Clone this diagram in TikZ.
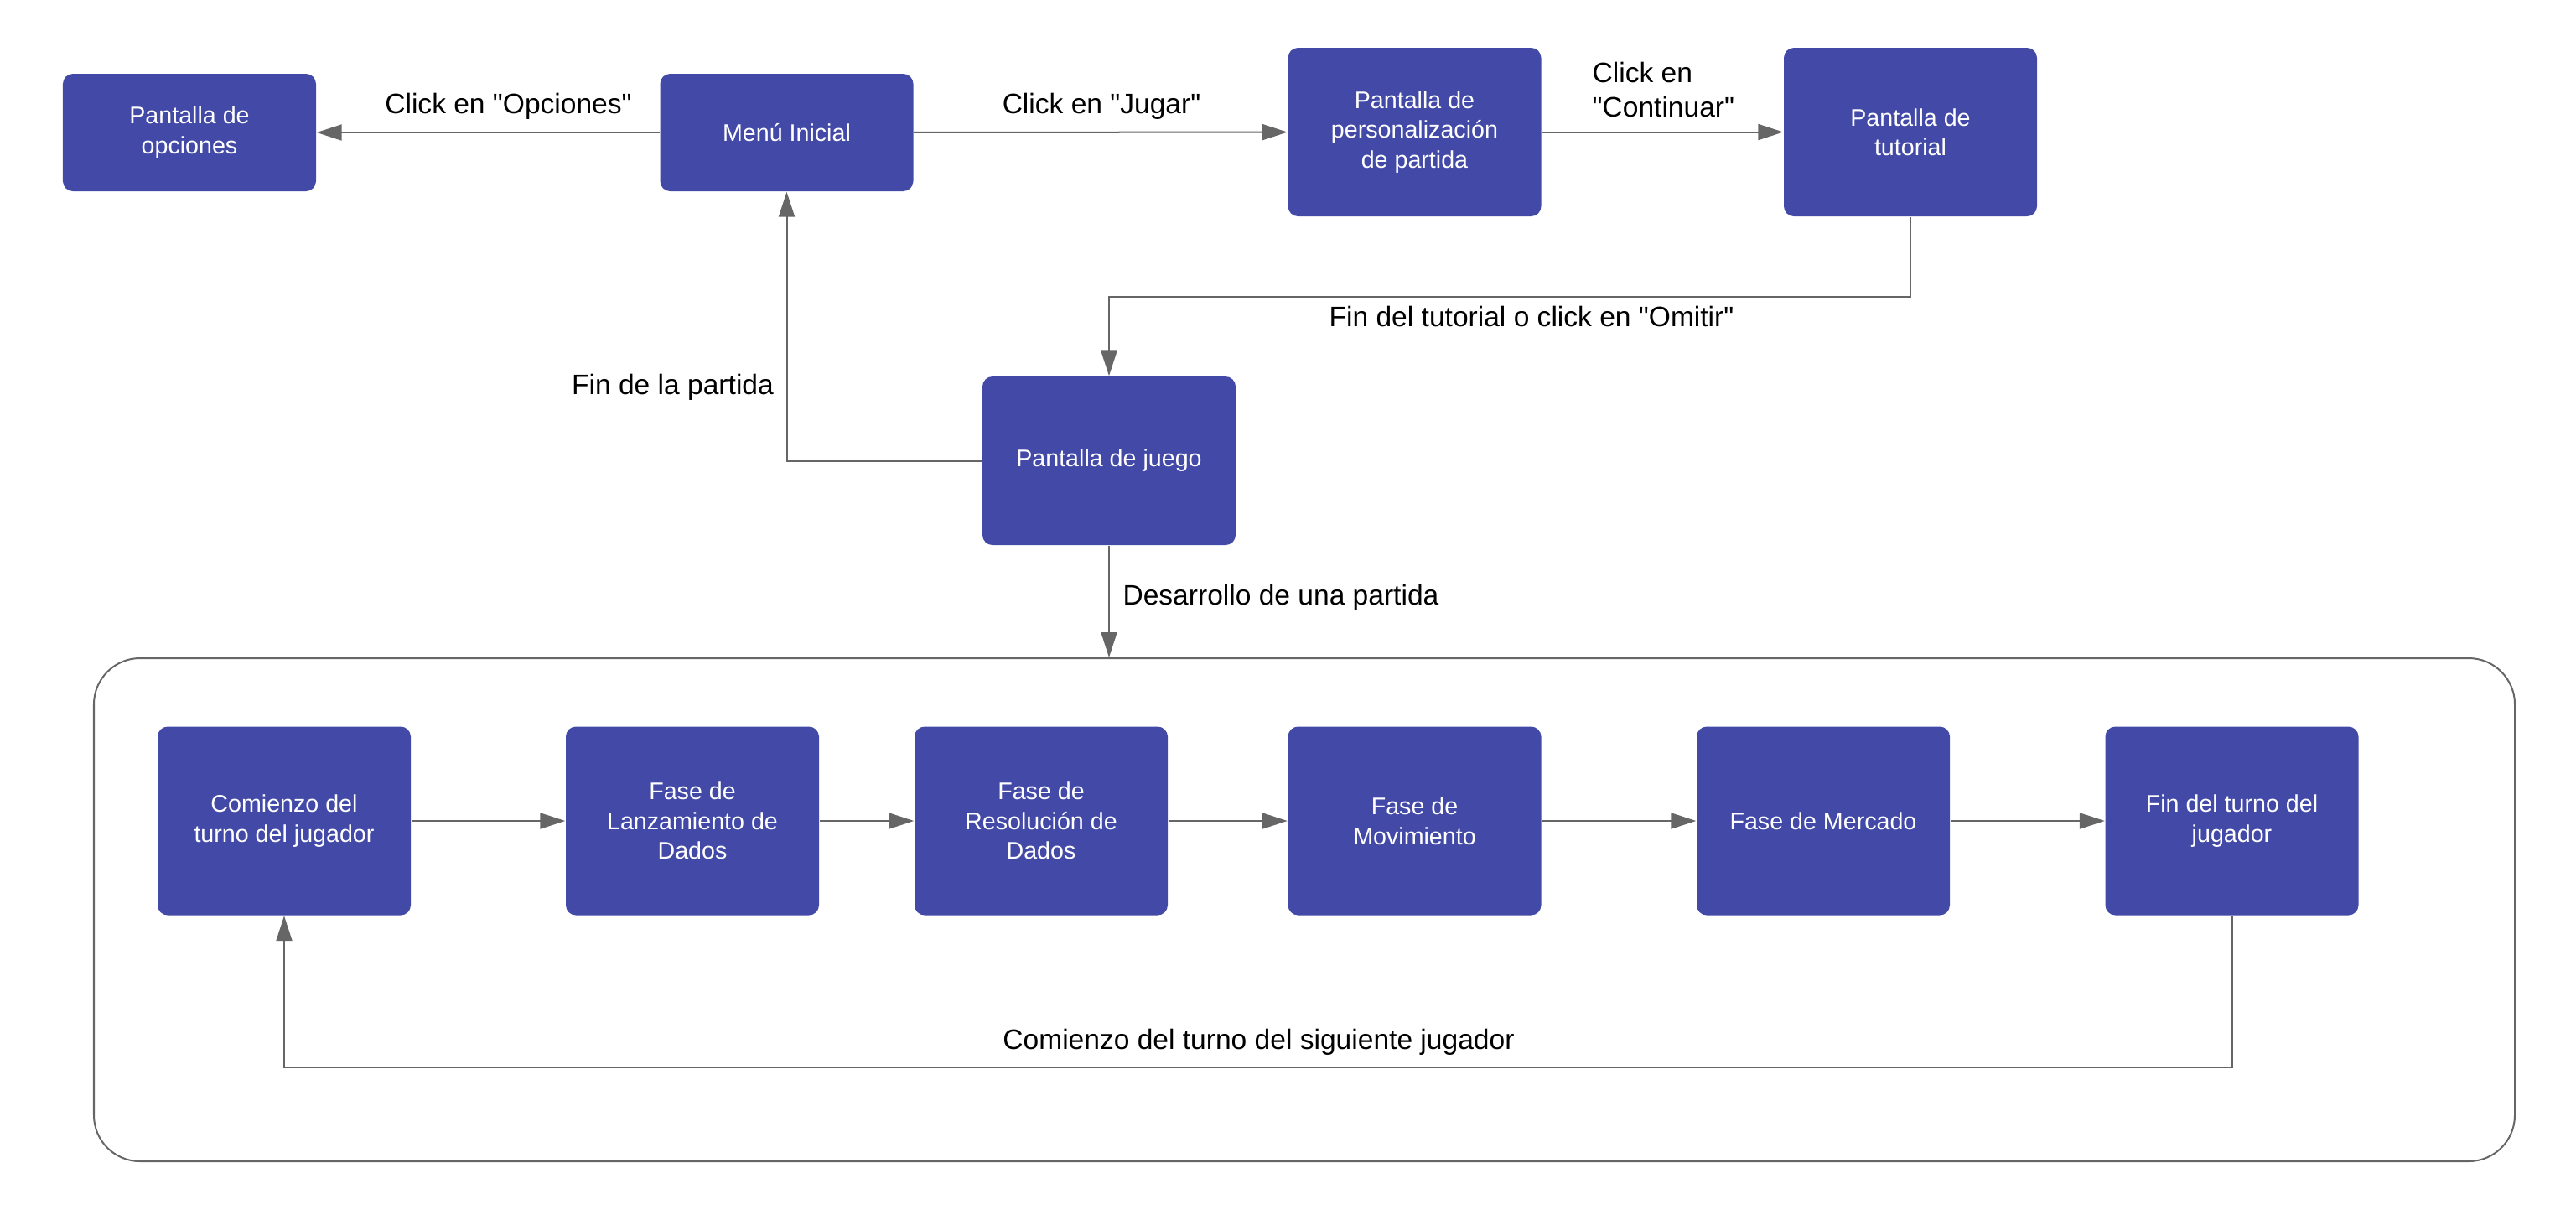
\documentclass[tikz,border=0pt]{standalone}
\usepackage{fontspec}
\setmainfont{Liberation Sans}
\usetikzlibrary{arrows.meta,calc}
\definecolor{azulcaja}{RGB}{67,73,167}
\definecolor{gris}{RGB}{102,102,102}
\newcommand{\cq}{\textquotedbl}

\begin{document}
\begin{tikzpicture}[
  caja/.style={fill=azulcaja, rounded corners=0.12cm, minimum width=3.02cm, inner sep=0pt,
    align=center, text=white, font=\fontsize{8.15}{10.1}\selectfont},
  etiqueta/.style={inner sep=0pt, font=\fontsize{9.55}{11.4}\selectfont},
  flecha/.style={draw=gris, line width=0.02cm, -{Triangle[length=0.30cm, width=0.19cm]}}
]
\useasboundingbox (0,0) rectangle (30.73,-14.48);
% pantallas
\node[caja, minimum height=1.40cm] (opciones) at (2.26,-1.58) {Pantalla de\\opciones};
\node[caja, minimum height=1.40cm] (menu) at (9.385,-1.58) {Menú Inicial};
\node[caja, minimum height=2.01cm] (personal) at (16.875,-1.575) {Pantalla de\\personalización\\de partida};
\node[caja, minimum height=2.01cm] (tutorial) at (22.79,-1.575) {Pantalla de\\tutorial};
\node[caja, minimum height=2.01cm] (juego) at (13.23,-5.495) {Pantalla de juego};
% desarrollo de una partida
\node[draw=gris, line width=0.02cm, rounded corners=0.55cm, minimum width=28.88cm,
  minimum height=6.0cm, inner sep=0pt] (marco) at (15.56,-10.85) {};
\node[caja, minimum height=2.25cm] (comienzo) at (3.39,-9.79) {Comienzo del\\turno del jugador};
\node[caja, minimum height=2.25cm] (lanzamiento) at (8.26,-9.79) {Fase de\\Lanzamiento de\\Dados};
\node[caja, minimum height=2.25cm] (resolucion) at (12.42,-9.79) {Fase de\\Resolución de\\Dados};
\node[caja, minimum height=2.25cm] (movimiento) at (16.875,-9.79) {Fase de\\Movimiento};
\node[caja, minimum height=2.25cm] (mercado) at (21.75,-9.79) {Fase de Mercado};
\node[caja, minimum height=2.25cm] (fin) at (26.625,-9.79) {Fin del turno del\\jugador};
% transiciones
\coordinate (codo1) at (22.79,-3.54);
\coordinate (codo2) at (26.625,-12.73);
\draw[flecha] (menu) -- (opciones);
\draw[flecha] (menu) -- (personal);
\draw[flecha] (personal) -- (tutorial);
\draw[flecha] (tutorial.south) -- (codo1) -| (juego.north);
\draw[flecha] (juego.west) -| (menu.south);
\draw[flecha] (juego.south) -- (juego.south |- marco.north);
\draw[flecha] (comienzo) -- (lanzamiento);
\draw[flecha] (lanzamiento) -- (resolucion);
\draw[flecha] (resolucion) -- (movimiento);
\draw[flecha] (movimiento) -- (mercado);
\draw[flecha] (mercado) -- (fin);
\draw[flecha] (fin.south) -- (codo2) -| (comienzo.south);
% etiquetas
\node[etiqueta] (lopciones) at (6.065,-1.27) {Click en \cq Opciones\cq};
\node[etiqueta] (ljugar) at (13.14,-1.27) {Click en \cq Jugar\cq};
\node[etiqueta, align=left, anchor=west] (lcontinuar) at (18.99,-1.07) {Click en\\\cq Continuar\cq};
\node[etiqueta] (lomitir) at (18.27,-3.77) {Fin del tutorial o click en \cq Omitir\cq};
\node[etiqueta] (lfinpartida) at (8.025,-4.62) {Fin de la partida};
\node[etiqueta] (ldesarrollo) at (15.28,-7.13) {Desarrollo de una partida};
\node[etiqueta] (lsiguiente) at (15.015,-12.43) {Comienzo del turno del siguiente jugador};
\end{tikzpicture}
\end{document}
